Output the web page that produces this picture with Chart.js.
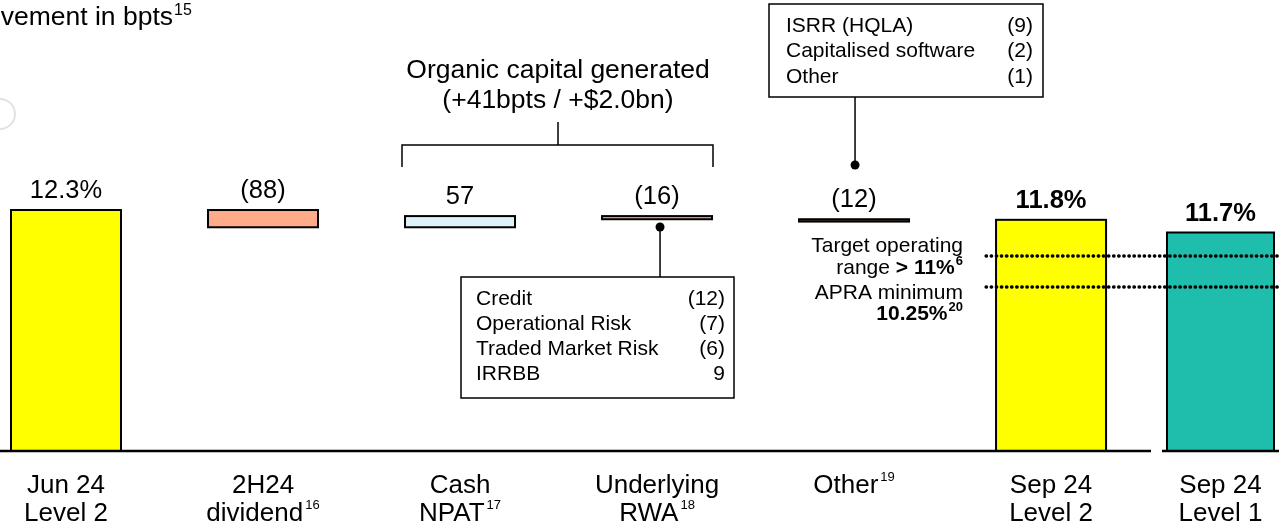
<!DOCTYPE html>
<html><head><meta charset="utf-8">
<script src="https://cdn.jsdelivr.net/npm/chart.js@4.4.1/dist/chart.umd.min.js"></script>
<style>html,body{margin:0;padding:0;background:#fff;overflow:hidden}canvas{display:block}</style>
</head><body>
<canvas id="c" width="1279" height="529"></canvas>
<script>
// ---------------- data ----------------
const categories = [["Jun 24","Level 2"],["2H24","dividend"],["Cash","NPAT"],["Underlying","RWA"],["Other"],["Sep 24","Level 2"],["Sep 24","Level 1"]];
const categoryFootnotes = ["", "16", "17", "18", "19", "", ""];
const openingLevel2 = 12.3;            // %
const movementsBpts = [-88, 57, -16, -12];
const closingLevel2 = 11.8;            // %
const closingLevel1 = 11.7;            // %
const valueLabels = ["12.3%","(88)","57","(16)","(12)","11.8%","11.7%"];
const targetOperatingRange = 11;       // %
const apraMinimum = 10.25;             // %
const rwaItems = ["Credit","Operational Risk","Traded Market Risk","IRRBB"];
const rwaValues = ["(12)","(7)","(6)","9"];
const otherItems = ["ISRR (HQLA)","Capitalised software","Other"];
const otherValues = ["(9)","(2)","(1)"];

// ---------------- layout / style ----------------
const xPos = [0, 1, 2, 3, 4, 5, 5.86];
const barColors = ['#FFFF00','#FFAA88','#DDF2F8','#F7A283','#6E5444','#FFFF00'];
const level1Color = '#1FBEAC';
const FONT = '"Liberation Sans", Arial, sans-serif';
const X_MIN = -0.335, X_MAX = 6.157;

// build floating waterfall bars from the data
const mainBars = [{x: xPos[0], y: [0, openingLevel2]}];
let level = openingLevel2;
movementsBpts.forEach((m, i) => {
  const next = level + m / 100;
  mainBars.push({x: xPos[i + 1], y: [Math.min(level, next), Math.max(level, next)]});
  level = next;
});
mainBars.push({x: xPos[5], y: [0, closingLevel2]});
const level1Bars = [{x: xPos[6], y: [0, closingLevel1]}];

function textWithSup(ctx, text, sup, x, y, align, font, supFont, supRise) {
  ctx.font = font;
  const w1 = ctx.measureText(text).width;
  ctx.font = supFont;
  const w2 = sup ? ctx.measureText(sup).width + 2 : 0;
  const total = w1 + w2;
  let left = align === 'center' ? x - total / 2 : (align === 'right' ? x - total : x);
  ctx.textAlign = 'left';
  ctx.textBaseline = 'middle';
  ctx.font = font;
  ctx.fillText(text, left, y);
  if (sup) { ctx.font = supFont; ctx.fillText(sup, left + w1 + 2, y - supRise); }
}

const overlay = {
  id: 'overlay',
  afterDatasetDraw(chart, args) {
    const ds = chart.data.datasets[args.index];
    if (ds.type !== 'bar') return;
    const ctx = chart.ctx;
    ctx.save();
    ctx.strokeStyle = '#000';
    ctx.lineWidth = 2;
    args.meta.data.forEach(el => {
      const top = Math.min(el.y, el.base), bottom = Math.max(el.y, el.base);
      ctx.strokeRect(el.x - el.width / 2, top, el.width, bottom - top);
    });
    ctx.restore();
  },
  afterDraw(chart) {
    const ctx = chart.ctx;
    const xs = chart.scales.x;
    const y0 = chart.scales.y.getPixelForValue(0);
    ctx.save();
    ctx.fillStyle = '#000';
    ctx.strokeStyle = '#000';

    // baseline (broken before the Level 1 bar)
    ctx.lineWidth = 2.5;
    ctx.beginPath();
    ctx.moveTo(0, y0); ctx.lineTo(1151, y0);
    ctx.moveTo(1162, y0); ctx.lineTo(1279, y0);
    ctx.stroke();

    // value labels
    const els = chart.getDatasetMeta(0).data.concat(chart.getDatasetMeta(1).data);
    els.forEach((el, i) => {
      const top = Math.min(el.y, el.base);
      ctx.textAlign = 'center';
      ctx.textBaseline = 'middle';
      ctx.font = (i >= 5 ? 'bold 25.5px ' : '25.5px ') + FONT;
      ctx.fillText(valueLabels[i], el.x, top - 19);
    });

    // category labels
    categories.forEach((lines, i) => {
      const cx = xs.getPixelForValue(xPos[i]);
      lines.forEach((t, j) => {
        const sup = (j === lines.length - 1) ? categoryFootnotes[i] : '';
        textWithSup(ctx, t, sup, cx, 486 + j * 28, 'center', '26px ' + FONT, '13px ' + FONT, 9);
      });
    });

    // title
    ctx.font = '26.5px ' + FONT;
    ctx.textAlign = 'right'; ctx.textBaseline = 'alphabetic';
    ctx.fillText('Movement in bpts', 173, 25);
    ctx.font = '16px ' + FONT; ctx.textAlign = 'left';
    ctx.fillText('15', 174, 15);

    // faint watermark arc
    ctx.strokeStyle = '#e2e2e2'; ctx.lineWidth = 2;
    ctx.beginPath(); ctx.arc(0, 114, 15, -Math.PI / 2, Math.PI / 2); ctx.stroke();
    ctx.strokeStyle = '#000';

    // organic capital bracket
    ctx.font = '26.5px ' + FONT; ctx.textAlign = 'center'; ctx.textBaseline = 'middle';
    ctx.fillText('Organic capital generated', 558, 71);
    ctx.fillText('(+41bpts / +$2.0bn)', 558, 101);
    ctx.lineWidth = 1.5;
    ctx.beginPath();
    ctx.moveTo(402, 167); ctx.lineTo(402, 145); ctx.lineTo(713, 145); ctx.lineTo(713, 167);
    ctx.moveTo(558, 122); ctx.lineTo(558, 145);
    ctx.stroke();

    // RWA callout
    const rwaX = chart.getDatasetMeta(0).data[3].x + 3;
    ctx.beginPath(); ctx.moveTo(rwaX, 227); ctx.lineTo(rwaX, 277); ctx.stroke();
    ctx.beginPath(); ctx.arc(rwaX, 227, 4.5, 0, Math.PI * 2); ctx.fill();
    ctx.fillStyle = '#fff'; ctx.fillRect(461, 277, 273, 121); ctx.fillStyle = '#000';
    ctx.strokeRect(461, 277, 273, 121);
    ctx.font = '21px ' + FONT; ctx.textBaseline = 'middle';
    rwaItems.forEach((t, i) => {
      ctx.textAlign = 'left'; ctx.fillText(t, 476, 299 + i * 25);
      ctx.textAlign = 'right'; ctx.fillText(rwaValues[i], 725, 299 + i * 25);
    });

    // Other callout
    const othX = chart.getDatasetMeta(0).data[4].x + 1;
    ctx.beginPath(); ctx.moveTo(othX, 97); ctx.lineTo(othX, 165); ctx.stroke();
    ctx.beginPath(); ctx.arc(othX, 165, 4.5, 0, Math.PI * 2); ctx.fill();
    ctx.strokeRect(769, 4, 274, 93);
    otherItems.forEach((t, i) => {
      ctx.textAlign = 'left'; ctx.fillText(t, 786, 26 + i * 25.5);
      ctx.textAlign = 'right'; ctx.fillText(otherValues[i], 1033, 26 + i * 25.5);
    });

    // reference line labels
    const right = 963;
    ctx.textBaseline = 'middle';
    ctx.textAlign = 'right';
    ctx.font = '21px ' + FONT;
    ctx.fillText('Target operating', right, 246);
    ctx.fillText('APRA minimum', right, 293);
    // "range > 11%6"
    ctx.font = 'bold 13px ' + FONT; const s6 = ctx.measureText('6').width;
    ctx.font = 'bold 21px ' + FONT; const b11 = ctx.measureText('> 11%').width;
    ctx.textAlign = 'left';
    ctx.font = 'bold 13px ' + FONT; ctx.fillText('6', right - s6, 261);
    ctx.font = 'bold 21px ' + FONT; ctx.fillText('> 11%', right - s6 - 1 - b11, 268);
    ctx.font = '21px ' + FONT; ctx.textAlign = 'right'; ctx.fillText('range ', right - s6 - 1 - b11, 268);
    // "10.25%20"
    ctx.textAlign = 'left';
    ctx.font = 'bold 13px ' + FONT; const s20 = ctx.measureText('20').width;
    ctx.fillText('20', right - s20, 307);
    ctx.font = 'bold 21px ' + FONT; const b1025 = ctx.measureText('10.25%').width;
    ctx.fillText('10.25%', right - s20 - 1 - b1025, 314);

    ctx.restore();
  }
};

new Chart(document.getElementById('c'), {
  type: 'bar',
  data: {
    datasets: [
      {type: 'bar', label: 'Level 2 waterfall', data: mainBars, backgroundColor: barColors,
       borderWidth: 0, barThickness: 110, grouped: false, yAxisID: 'y', order: 2},
      {type: 'bar', label: 'Level 1', data: level1Bars, backgroundColor: level1Color,
       borderWidth: 0, barThickness: 107, grouped: false, yAxisID: 'y1', order: 2},
      {type: 'line', label: 'Target operating range', data: [{x: 4.67, y: targetOperatingRange}, {x: X_MAX, y: targetOperatingRange}],
       yAxisID: 'yRef', borderColor: '#000', borderWidth: 3.3, borderDash: [0.5, 4.6], borderCapStyle: 'round',
       pointRadius: 0, fill: false, order: 1},
      {type: 'line', label: 'APRA minimum', data: [{x: 4.67, y: apraMinimum}, {x: X_MAX, y: apraMinimum}],
       yAxisID: 'yRef', borderColor: '#000', borderWidth: 3.3, borderDash: [0.5, 4.6], borderCapStyle: 'round',
       pointRadius: 0, fill: false, order: 1}
    ]
  },
  options: {
    responsive: false,
    animation: false,
    layout: {padding: {left: 0, right: 0, top: 0, bottom: 78}},
    plugins: {legend: {display: false}, tooltip: {enabled: false}},
    scales: {
      x: {type: 'linear', display: false, min: X_MIN, max: X_MAX, offset: false},
      y: {display: false, min: 0, max: 23.02},
      y1: {display: false, min: 0, max: 24.15},
      yRef: {display: false, min: 6.282, max: 17.194}
    }
  },
  plugins: [overlay]
});
</script>
</body></html>
